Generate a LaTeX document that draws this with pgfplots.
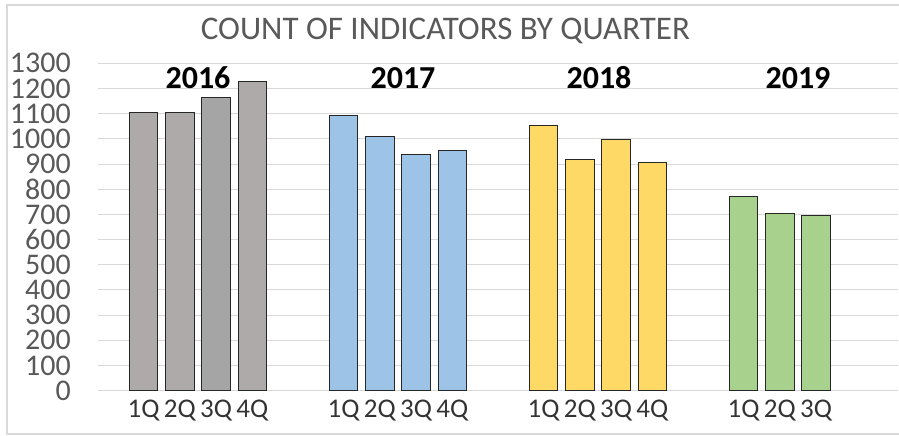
\documentclass[border=0pt]{standalone}
\usepackage{fontspec}
\setmainfont{Carlito}
\usepackage{pgfplots}
\pgfplotsset{compat=1.18}
\definecolor{gbar}{HTML}{AEAAAA}
\definecolor{gbarb}{HTML}{A5A5A5}
\definecolor{bbar}{HTML}{9DC3E6}
\definecolor{ybar}{HTML}{FFD966}
\definecolor{grbar}{HTML}{A9D18E}
\definecolor{txtgray}{HTML}{595959}
\definecolor{gridc}{HTML}{D9D9D9}
\definecolor{outl}{HTML}{262626}
\begin{document}
\begin{tikzpicture}
\path[use as bounding box] (0,0) rectangle (899pt,-436pt);
\draw[gridc, line width=1.5pt] (7pt,-5pt) rectangle (910pt,-434pt);
\node[anchor=base, text=txtgray, font=\fontsize{33}{36}\selectfont] at (445.4pt,-40pt) {COUNT OF INDICATORS BY QUARTER};
\begin{axis}[
  at={(98pt,-390.7pt)}, anchor=south west,
  scale only axis, width=800pt, height=327.4pt,
  xmin=98, xmax=898, ymin=0, ymax=1300,
  ytick={0,100,...,1300},
  xtick={143.5,179.8,216.1,252.4,343.5,379.8,416.1,452.4,543.5,579.8,616.1,652.4,743.5,779.8,816.1},
  xticklabels={1Q,2Q,3Q,4Q,1Q,2Q,3Q,4Q,1Q,2Q,3Q,4Q,1Q,2Q,3Q},
  axis line style={draw=none},
  tick style={draw=none},
  ymajorgrids, grid style={gridc, line width=1pt},
  /pgf/number format/assume math mode=true,
  /pgf/number format/1000 sep={},
  yticklabel style={font=\fontsize{30}{32}\selectfont, text=txtgray, inner sep=0pt, xshift=-27pt},
  xticklabel style={font=\fontsize{27}{29}\selectfont, text=black!80, inner sep=0pt, yshift=-9pt},
  clip=false,
]
\addplot[ybar, bar shift=0pt, bar width=28.5, fill=gbar, draw=outl, line width=1pt] coordinates {(143.5,1105) (179.8,1105) (252.4,1227)};
\addplot[ybar, bar shift=0pt, bar width=28.5, fill=gbarb, draw=outl, line width=1pt] coordinates {(216.1,1165)};
\addplot[ybar, bar shift=0pt, bar width=28.5, fill=bbar, draw=outl, line width=1pt] coordinates {(343.5,1091) (379.8,1009) (416.1,937) (452.4,953)};
\addplot[ybar, bar shift=0pt, bar width=28.5, fill=ybar, draw=outl, line width=1pt] coordinates {(543.5,1054) (579.8,919) (616.1,996) (652.4,907)};
\addplot[ybar, bar shift=0pt, bar width=28.5, fill=grbar, draw=outl, line width=1pt] coordinates {(743.5,770) (779.8,705) (816.1,695)};
\node[anchor=base, font=\bfseries\fontsize{32}{34}\selectfont] at (axis cs:198,1201) {2016};
\node[anchor=base, font=\bfseries\fontsize{32}{34}\selectfont] at (axis cs:403,1201) {2017};
\node[anchor=base, font=\bfseries\fontsize{32}{34}\selectfont] at (axis cs:599,1201) {2018};
\node[anchor=base, font=\bfseries\fontsize{32}{34}\selectfont] at (axis cs:798,1201) {2019};
\end{axis}
\end{tikzpicture}
\end{document}
